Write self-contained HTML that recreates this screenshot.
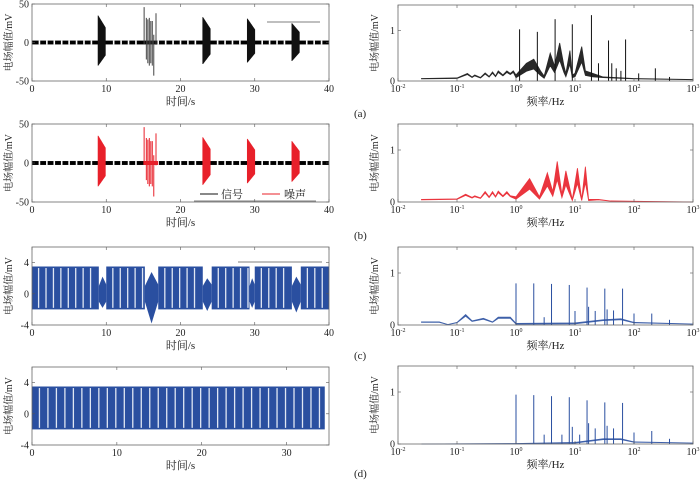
<!DOCTYPE html>
<html><head><meta charset="utf-8">
<style>
html,body{margin:0;padding:0;background:#fff;}
svg{display:block;font-family:"Liberation Serif","Noto Serif CJK SC",serif;}
</style></head>
<body>
<svg id="fig" width="700" height="483" viewBox="0 0 700 483" xmlns="http://www.w3.org/2000/svg"></svg>
<script>
// ---- data ----
const timeTicksA = [0,10,20,30,40];
const timeTicksD = [0,10,20,30];
const ampTicksAB = [-50,0,50];
const ampTicksCD = [-4,0,4];
const freqTicks = [-2,-1,0,1,2,3];
const specTicks = [0,1];
// bursts: [start s, end s, max mV, min mV]
const burstsA = [[8.9,9.9,35,-30],[23.0,24.0,33,-28],[29.0,30.0,31,-26],[35.0,36.0,25,-24]];
const burstsB = [[8.9,9.9,35,-30],[23.0,24.0,33,-28],[29.0,30.0,31,-26],[35.0,36.0,28,-24]];
// isolated spikes at ~15-17 s: [time, max, min]
const spikes15 = [[15.1,46,-2],[15.4,32,-22],[15.6,30,-27],[15.8,32,-30],[16.0,28,-27],[16.2,28,-30],[16.4,10,-43],[16.7,38,-3]];
const gapTimes = [1,2,3,4,5,6,7,8,11,12,13,14,17,18,19,20,21,22,25,26,27,28,31,32,33,34,37,38,39];
// blue square-wave blocks [start,end]
const blocksC = [[0,9],[10,15.2],[17,23],[24.2,29.3],[30,35],[36.2,40]];
const noiseC = [[9,10,2.2,-1.8],[15.2,17,2.8,-3.8],[23,24.2,2,-2.2],[29.3,30,2,-1.8],[35,36.2,2.2,-2.4]];
const blocksD = [[0,34.5]];
const periodC = 1.0;
const periodD = 1.0;
// spectra envelopes [Hz, mV]
const envA = [[0.025,0.05],[0.1,0.06],[0.15,0.15],[0.18,0.08],[0.2,0.12],[0.25,0.07],[0.3,0.16],[0.35,0.09],[0.4,0.18],[0.45,0.1],[0.5,0.2],[0.6,0.12],[0.7,0.2],[0.8,0.15],[0.9,0.2],[1,0.12],[1.5,0.35],[2,0.43],[2.6,0.2],[3,0.1],[3.8,0.55],[4.5,0.3],[5.5,0.75],[6.5,0.3],[7,0.15],[8.2,0.6],[9,0.12],[10,0.15],[13,0.68],[15,0.2],[20,0.15],[30,0.08],[100,0.05],[1000,0.03]];
const spikesA = [[1.15,1.02],[2.3,0.97],[4.6,1.22],[9,1.12],[19,1.3],[25,0.35],[37,0.8],[42,0.35],[50,0.25],[72,0.82],[60,0.2],[230,0.25],[120,0.15],[400,0.08]];
const envB = [[0.025,0.05],[0.1,0.06],[0.14,0.15],[0.18,0.09],[0.2,0.12],[0.25,0.08],[0.3,0.2],[0.35,0.1],[0.4,0.2],[0.45,0.11],[0.5,0.21],[0.6,0.12],[0.7,0.2],[0.8,0.12],[1,0.1],[1.7,0.45],[2.5,0.1],[3.4,0.56],[4.2,0.2],[5,0.78],[6,0.15],[7,0.6],[9,0.05],[11,0.65],[13,0.05],[15,0.68],[17,0.05],[25,0.05],[40,0.02],[1000,0.0]];
const spikesB = [];
const envC = [[0.025,0.06],[0.05,0.06],[0.07,0.01],[0.1,0.05],[0.14,0.2],[0.18,0.08],[0.28,0.13],[0.4,0.06],[0.5,0.15],[0.8,0.15],[1,0.03],[10,0.04],[30,0.1],[60,0.12],[100,0.05],[1000,0.02]];
const spikesC = [[1,0.8],[2,0.8],[4,0.79],[8,0.77],[16,0.72],[32,0.7],[64,0.7],[3,0.15],[10,0.27],[17,0.35],[22,0.27],[35,0.3],[45,0.28],[100,0.22],[200,0.22],[400,0.1]];
const envD = [[0.025,0.0],[1,0.01],[10,0.03],[30,0.1],[60,0.1],[100,0.04],[1000,0.02]];
const spikesD = [[1,0.95],[2,0.94],[4,0.92],[8,0.9],[16,0.84],[32,0.8],[64,0.79],[3,0.18],[6,0.18],[9,0.33],[12,0.18],[17,0.4],[22,0.3],[35,0.35],[45,0.3],[100,0.22],[200,0.25],[400,0.1]];

const NS="http://www.w3.org/2000/svg";
const svg=document.getElementById('fig');
function el(tag,attrs,parent){const e=document.createElementNS(NS,tag);for(const k in attrs)e.setAttribute(k,attrs[k]);(parent||svg).appendChild(e);return e;}

function axes(g,box,xs,ys,xticks,yticks,xfmt,yfmt,xlabel,logx){
  const [L,T,R,B]=box;
  xticks.forEach(v=>{const x=xs(logx?Math.pow(10,v):v);
    el('line',{x1:x,y1:B,x2:x,y2:B-3,stroke:'#555','stroke-width':0.6},g);
    el('line',{x1:x,y1:T,x2:x,y2:T+3,stroke:'#555','stroke-width':0.6},g);
    const t=el('text',{x:x,y:B+11,'font-size':10,'text-anchor':'middle',fill:'#222'},g);
    
    if(logx){t.textContent='10';const s=el('tspan',{dy:-4,'font-size':6},t);s.textContent=String(v);}else t.textContent=xfmt(v);
  });
  yticks.forEach(v=>{const y=ys(v);
    el('line',{x1:L,y1:y,x2:L+3,y2:y,stroke:'#555','stroke-width':0.6},g);
    el('line',{x1:R,y1:y,x2:R-3,y2:y,stroke:'#555','stroke-width':0.6},g);
    const t=el('text',{x:L-3,y:y+3.5,'font-size':10,'text-anchor':'end',fill:'#222'},g);
    
    t.textContent=yfmt(v);
  });
  el('rect',{x:L,y:T,width:R-L,height:B-T,fill:'none',stroke:'#666','stroke-width':0.8},g);
  const xl=el('text',{x:(L+R)/2,y:B+24,'font-size':11,'text-anchor':'middle',fill:'#222'},g);
  xl.textContent=xlabel;
  const yl=el('text',{x:0,y:0,'font-size':10,'text-anchor':'middle',fill:'#222',transform:`translate(${L-20},${(T+B)/2}) rotate(-90)`},g);
  yl.textContent='电场幅值/mV';
}

function timePanel(name,box,tmax,ymin,ymax,xticks,yticks,draw){
  const g=el('g',{});
  const [L,T,R,B]=box;
  const xs=v=>L+(v/tmax)*(R-L), ys=v=>B-(v-ymin)/(ymax-ymin)*(B-T);
  draw(g,xs,ys);
  axes(g,box,xs,ys,xticks,yticks,v=>String(v),v=>String(v),'时间/s',false);
  return g;
}

function drawAB(bursts,color){return (g,xs,ys)=>{
  el('rect',{x:xs(0),y:ys(2.5),width:xs(40)-xs(0),height:ys(-2.5)-ys(2.5),fill:'#000'},g);
  gapTimes.forEach(t=>el('rect',{x:xs(t)-0.8,y:ys(2.5),width:1.6,height:ys(-2.5)-ys(2.5),fill:'#fff'},g));
  if(color!=='#111'){el('rect',{x:xs(15),y:ys(2.5),width:xs(17)-xs(15),height:ys(-2.5)-ys(2.5),fill:color},g);}
  bursts.forEach(b=>{
    let d='';
    for(let t=b[0];t<=b[1];t+=0.025){const f=1-0.45*(t-b[0])/(b[1]-b[0]);d+=`M${xs(t).toFixed(2)},${ys(b[2]*f).toFixed(2)}V${ys(b[3]*f).toFixed(2)}`;}
    const p=el('path',{d:d,stroke:color,'stroke-width':0.7,fill:'none'},g);
    
  });
  let d='';
  spikes15.forEach(s=>{d+=`M${xs(s[0]).toFixed(2)},${ys(s[1]).toFixed(2)}V${ys(s[2]).toFixed(2)}`;});
  const p=el('path',{d:d,stroke:color==='#111'?'#444':color,'stroke-width':1,fill:'none'},g);
  
};}

function drawCD(blocks,noise,period,color){return (g,xs,ys)=>{
  blocks.forEach(b=>{
    const r=el('rect',{x:xs(b[0]),y:ys(3.5),width:xs(b[1])-xs(b[0]),height:ys(-2)-ys(3.5),fill:color},g);
    
    for(let t=b[0]+period*0.8;t<b[1]-0.2;t+=period)el('rect',{x:xs(t),y:ys(3.3),width:1.3,height:ys(-1.8)-ys(3.3),fill:'#dfe6f3'},g);
  });
  noise.forEach(n=>{
    const m=(n[0]+n[1])/2;
    const pts=`${xs(n[0])},${ys(1)} ${xs(m)},${ys(n[2])} ${xs(n[1])},${ys(1.2)} ${xs(n[1])},${ys(-1)} ${xs(m)},${ys(n[3])} ${xs(n[0])},${ys(-1)}`;
    const r=el('polygon',{points:pts,fill:color},g);
    
  });
};}

function specPanel(name,box,env,spikes,color){
  const g=el('g',{});
  const [L,T,R,B]=box;
  const xs=f=>L+(Math.log10(f)+2)/5*(R-L), ys=v=>B-v/1.5*(B-T);
  let up='',lo='';
  env.forEach((p,i)=>{up+=(i?'L':'M')+xs(p[0]).toFixed(2)+','+ys(p[1]).toFixed(2);});
  for(let i=env.length-1;i>=0;i--){const p=env[i];const k=(p[0]>=1&&p[0]<=20)?0.55:0.85;lo+='L'+xs(p[0]).toFixed(2)+','+ys(p[1]*k).toFixed(2);}
  const a=el('path',{d:up+lo+'Z',fill:color,stroke:color,'stroke-width':0.8,opacity:0.9},g);
  
  spikes.forEach(s=>{const l=el('line',{x1:xs(s[0]),y1:B,x2:xs(s[0]),y2:ys(s[1]),stroke:color,'stroke-width':1},g);
    });
  axes(g,box,xs,ys,freqTicks,specTicks,null,v=>String(v),'频率/Hz',true);
}

const LB=[32,329], RB=[398,693];
timePanel('time-plot-a',[LB[0],4,LB[1],81],40,-50,50,timeTicksA,ampTicksAB,drawAB(burstsA,'#111'));
timePanel('time-plot-b',[LB[0],124,LB[1],202],40,-50,50,timeTicksA,ampTicksAB,drawAB(burstsB,'#e8202a'));
timePanel('time-plot-c',[LB[0],247,LB[1],325],40,-4,6,timeTicksA,ampTicksCD,drawCD(blocksC,noiseC,periodC,'#2a4fa0'));
timePanel('time-plot-d',[LB[0],367,LB[1],445],35,-4,6,timeTicksD,ampTicksCD,drawCD(blocksD,[],periodD,'#2a4fa0'));
specPanel('spectrum-a',[RB[0],5,RB[1],81],envA,spikesA,'#111');
specPanel('spectrum-b',[RB[0],124,RB[1],202],envB,spikesB,'#e8202a');
specPanel('spectrum-c',[RB[0],247,RB[1],325],envC,spikesC,'#2a4fa0');
specPanel('spectrum-d',[RB[0],366,RB[1],444],envD,spikesD,'#2a4fa0');

el('line',{x1:267,y1:22,x2:320,y2:22,stroke:'#555','stroke-width':0.8});
el('line',{x1:238,y1:262,x2:322,y2:262,stroke:'#555','stroke-width':0.8});
const lg=el('g',{});
el('line',{x1:194,y1:201,x2:316,y2:201,stroke:'#555','stroke-width':0.8},lg);
el('line',{x1:200,y1:194,x2:218,y2:194,stroke:'#111','stroke-width':1},lg);
let t=el('text',{x:221,y:198,'font-size':11,fill:'#222'},lg);t.textContent='信号';
el('line',{x1:262,y1:194,x2:280,y2:194,stroke:'#e8202a','stroke-width':1},lg);
t=el('text',{x:284,y:198,'font-size':11,fill:'#222'},lg);t.textContent='噪声';

[['(a)',117],['(b)',239],['(c)',359],['(d)',477]].forEach(p=>{const s=el('text',{x:354,y:p[1],'font-size':11,fill:'#222'});
  s.textContent=p[0];});
</script>
</body></html>
